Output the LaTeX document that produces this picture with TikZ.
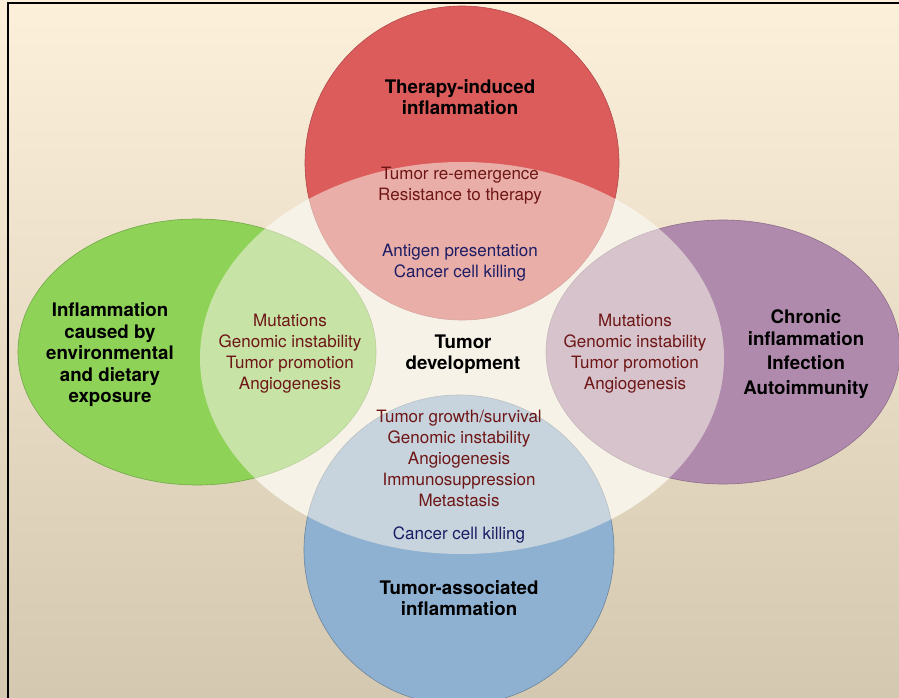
\documentclass[tikz,border=0pt]{standalone}
\usepackage{fontspec}
\setmainfont{TeX Gyre Heros}
\usepackage{xcolor}
\usepackage{tikz}
\usetikzlibrary{positioning}

\definecolor{bgtop}{RGB}{252,240,219}
\definecolor{bgbot}{RGB}{212,200,176}
\definecolor{corecream}{RGB}{247,242,231}
\definecolor{therapyred}{RGB}{220,92,92}
\definecolor{assocblue}{RGB}{143,177,209}
\definecolor{environgreen}{RGB}{142,210,88}
\definecolor{chronicpurple}{RGB}{176,138,172}
\definecolor{itemred}{RGB}{110,22,22}
\definecolor{itemblue}{RGB}{28,28,100}

\begin{document}
\begin{tikzpicture}[
    x=1pt, y=-1pt,
    lobe/.style={line width=0.6pt},
    title/.style={align=center, text=black, font=\fontsize{18.7}{21.5}\selectfont\bfseries},
    item/.style={align=center, text=itemred, font=\fontsize{17}{21}\selectfont},
    immune/.style={item, text=itemblue}
]

\useasboundingbox (0,0) rectangle (899,698);
\shade[top color=bgtop, bottom color=bgbot] (0,0) rectangle (899,698);
\draw[line width=2pt] (8,698) -- (8,3) -- (899,3);

% base of the central ellipse
\fill[corecream] (462,358) ellipse [x radius=262pt, y radius=196pt];

% the four inflammation lobes
\filldraw[lobe, fill=therapyred, draw=therapyred!80!black] (462,163) circle [radius=157pt];
\filldraw[lobe, fill=assocblue, draw=assocblue!75!black] (459,550) circle [radius=155pt];
\filldraw[lobe, fill=environgreen, draw=environgreen!80!black] (197,352) ellipse [x radius=179pt, y radius=133pt];
\filldraw[lobe, fill=chronicpurple, draw=chronicpurple!80!black] (723,352) ellipse [x radius=177pt, y radius=132pt];

% tumor development overlay
\fill[corecream, fill opacity=0.55] (462,358) ellipse [x radius=262pt, y radius=196pt];

\node[title] (therapy) at (460,97) {Therapy-induced\\inflammation};
\node[item] (therapyitems) at (460,186) {Tumor re-emergence\\Resistance to therapy};
\node[immune] (therapyimmune) at (460,263) {Antigen presentation\\Cancer cell killing};

\node[title] (environ) at (110,355) {Inflammation\\caused by\\environmental\\and dietary\\exposure};
\node[item] (environitems) at (290,354) {Mutations\\Genomic instability\\Tumor promotion\\Angiogenesis};

\node[title] (core) at (463,354) {Tumor\\development};

\node[item] (chronicitems) at (635,354) {Mutations\\Genomic instability\\Tumor promotion\\Angiogenesis};
\node[title] (chronic) at (806,354) {Chronic\\inflammation\\[3pt]Infection\\[3pt]Autoimmunity};

\node[item] (associtems) at (459,458) {Tumor growth/survival\\Genomic instability\\Angiogenesis\\Immunosuppression\\Metastasis};
\node[immune] (associmmune) at (459,535) {Cancer cell killing};
\node[title] (assoc) at (459,598) {Tumor-associated\\inflammation};

\end{tikzpicture}
\end{document}
